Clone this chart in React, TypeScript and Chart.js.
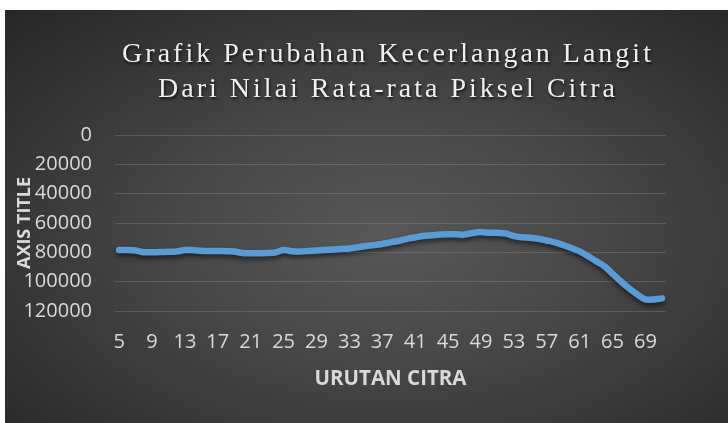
import React, { useEffect, useRef } from "react";
import { Chart, registerables } from "chart.js";

Chart.register(...registerables);

const titleLines = ["Grafik Perubahan Kecerlangan Langit", "Dari Nilai Rata-rata Piksel Citra"];
const xAxisTitle = "URUTAN CITRA";
const yAxisTitle = "AXIS TITLE";

const categories = [
  "5", "6", "7", "8", "9", "10", "11", "12", "13", "14", "15", "16", "17", "18", "19", "20",
  "21", "22", "23", "24", "25", "26", "27", "28", "29", "30", "31", "32", "33", "34", "35", "36",
  "37", "38", "39", "40", "41", "42", "43", "44", "45", "46", "47", "48", "49", "50", "51", "52",
  "53", "54", "55", "56", "57", "58", "59", "60", "61", "62", "63", "64", "65", "66", "67", "68",
  "69", "70", "71",
];

const brightness = [
  78400, 78400, 78750, 79900, 79900, 79800, 79650, 79400, 78400, 78500, 78900, 79100, 79100, 79200, 79400, 80500,
  80600, 80600, 80500, 80100, 78400, 79200, 79400, 79100, 78700, 78400, 78100, 77700, 77400, 76500, 75700, 75100,
  74300, 73200, 72200, 70800, 69800, 68800, 68400, 67900, 67700, 67700, 67900, 66800, 66200, 66600, 66700, 67100,
  69000, 69700, 70000, 70700, 71900, 73200, 75000, 77000, 79400, 82500, 86000, 89400, 94600, 99700, 104500, 108700,
  112100, 112100, 111400,
];

const yMin = 0;
const yMax = 120000;
const yStep = 20000;
const labelEvery = 4;

const titlePlugin = {
  id: "spacedTitle",
  afterDraw(chart: any) {
    const { ctx } = chart;
    ctx.save();
    ctx.font = '28px "Liberation Serif"';
    (ctx as any).letterSpacing = "3px";
    ctx.fillStyle = "#f0f0f0";
    ctx.textAlign = "center";
    ctx.textBaseline = "alphabetic";
    ctx.shadowColor = "rgba(0,0,0,0.75)";
    ctx.shadowBlur = 3;
    ctx.shadowOffsetX = 1;
    ctx.shadowOffsetY = 2;
    const cx = 383;
    const baselines = [52, 87];
    titleLines.forEach((t, i) => ctx.fillText(t, cx, baselines[i]));
    ctx.restore();
  },
};

const shadowPlugin = {
  id: "lineShadow",
  beforeDatasetDraw(chart: any) {
    const { ctx } = chart;
    ctx.save();
    ctx.shadowColor = "rgba(0,0,0,0.55)";
    ctx.shadowBlur = 5;
    ctx.shadowOffsetX = 0;
    ctx.shadowOffsetY = 3;
  },
  afterDatasetDraw(chart: any) {
    chart.ctx.restore();
  },
};

export default function App() {
  const ref = useRef<HTMLCanvasElement | null>(null);

  useEffect(() => {
    if (!ref.current) return;
    const chart = new Chart(ref.current, {
      type: "line",
      data: {
        labels: categories,
        datasets: [
          {
            data: brightness,
            borderColor: "#5B9BD5",
            borderWidth: 6.5,
            pointRadius: 0,
            tension: 0.3,
            borderCapStyle: "round",
            borderJoinStyle: "round",
            fill: false,
          },
        ],
      },
      options: {
        animation: false,
        responsive: false,
        layout: { padding: { top: 125, left: 0, right: 62, bottom: 32 } },
        plugins: {
          legend: { display: false },
          title: { display: false },
          tooltip: { enabled: false },
        },
        scales: {
          x: {
            offset: true,
            grid: { display: false, drawTicks: false },
            border: { display: false },
            afterFit: (scale: any) => {
              scale.height = 80;
            },
            ticks: {
              autoSkip: false,
              maxRotation: 0,
              minRotation: 0,
              padding: 19,
              color: "#d9d9d9",
              font: { family: '"Open Sans"', size: 20 },
              callback: (_v: any, i: number) => (i % labelEvery === 0 ? categories[i] : null),
            },
            title: {
              display: true,
              text: xAxisTitle,
              color: "#d9d9d9",
              font: { family: '"Open Sans"', size: 20.5, weight: "bold" },
              padding: { top: 0, bottom: 0 },
            },
          },
          y: {
            reverse: true,
            min: yMin,
            max: yMax,
            grid: { color: "rgba(255,255,255,0.14)", lineWidth: 1, drawTicks: false },
            border: { display: false },
            afterFit: (scale: any) => {
              scale.width = 110;
            },
            ticks: {
              stepSize: yStep,
              autoSkip: false,
              padding: 23,
              color: "#d9d9d9",
              font: { family: '"Open Sans"', size: 20 },
              callback: (v: any) => String(v),
            },
            title: {
              display: true,
              text: yAxisTitle,
              color: "#d9d9d9",
              font: { family: '"Open Sans"', size: 18, weight: "bold" },
              padding: { top: 9, bottom: 0 },
            },
          },
        },
      },
      plugins: [titlePlugin, shadowPlugin],
    } as any);
    return () => chart.destroy();
  }, []);

  return (
    <div style={{ position: "absolute", left: 0, top: 0, width: 728, height: 423, background: "#ffffff", overflow: "hidden" }}>
      <div
        style={{
          position: "absolute",
          left: 5,
          top: 10,
          width: 723,
          height: 413,
          background: "radial-gradient(ellipse farthest-corner at 53% 55%, #585858 0%, #474747 40%, #262626 100%)",
        }}
      >
        <canvas ref={ref} width={723} height={413} style={{ display: "block" }} />
      </div>
    </div>
  );
}
